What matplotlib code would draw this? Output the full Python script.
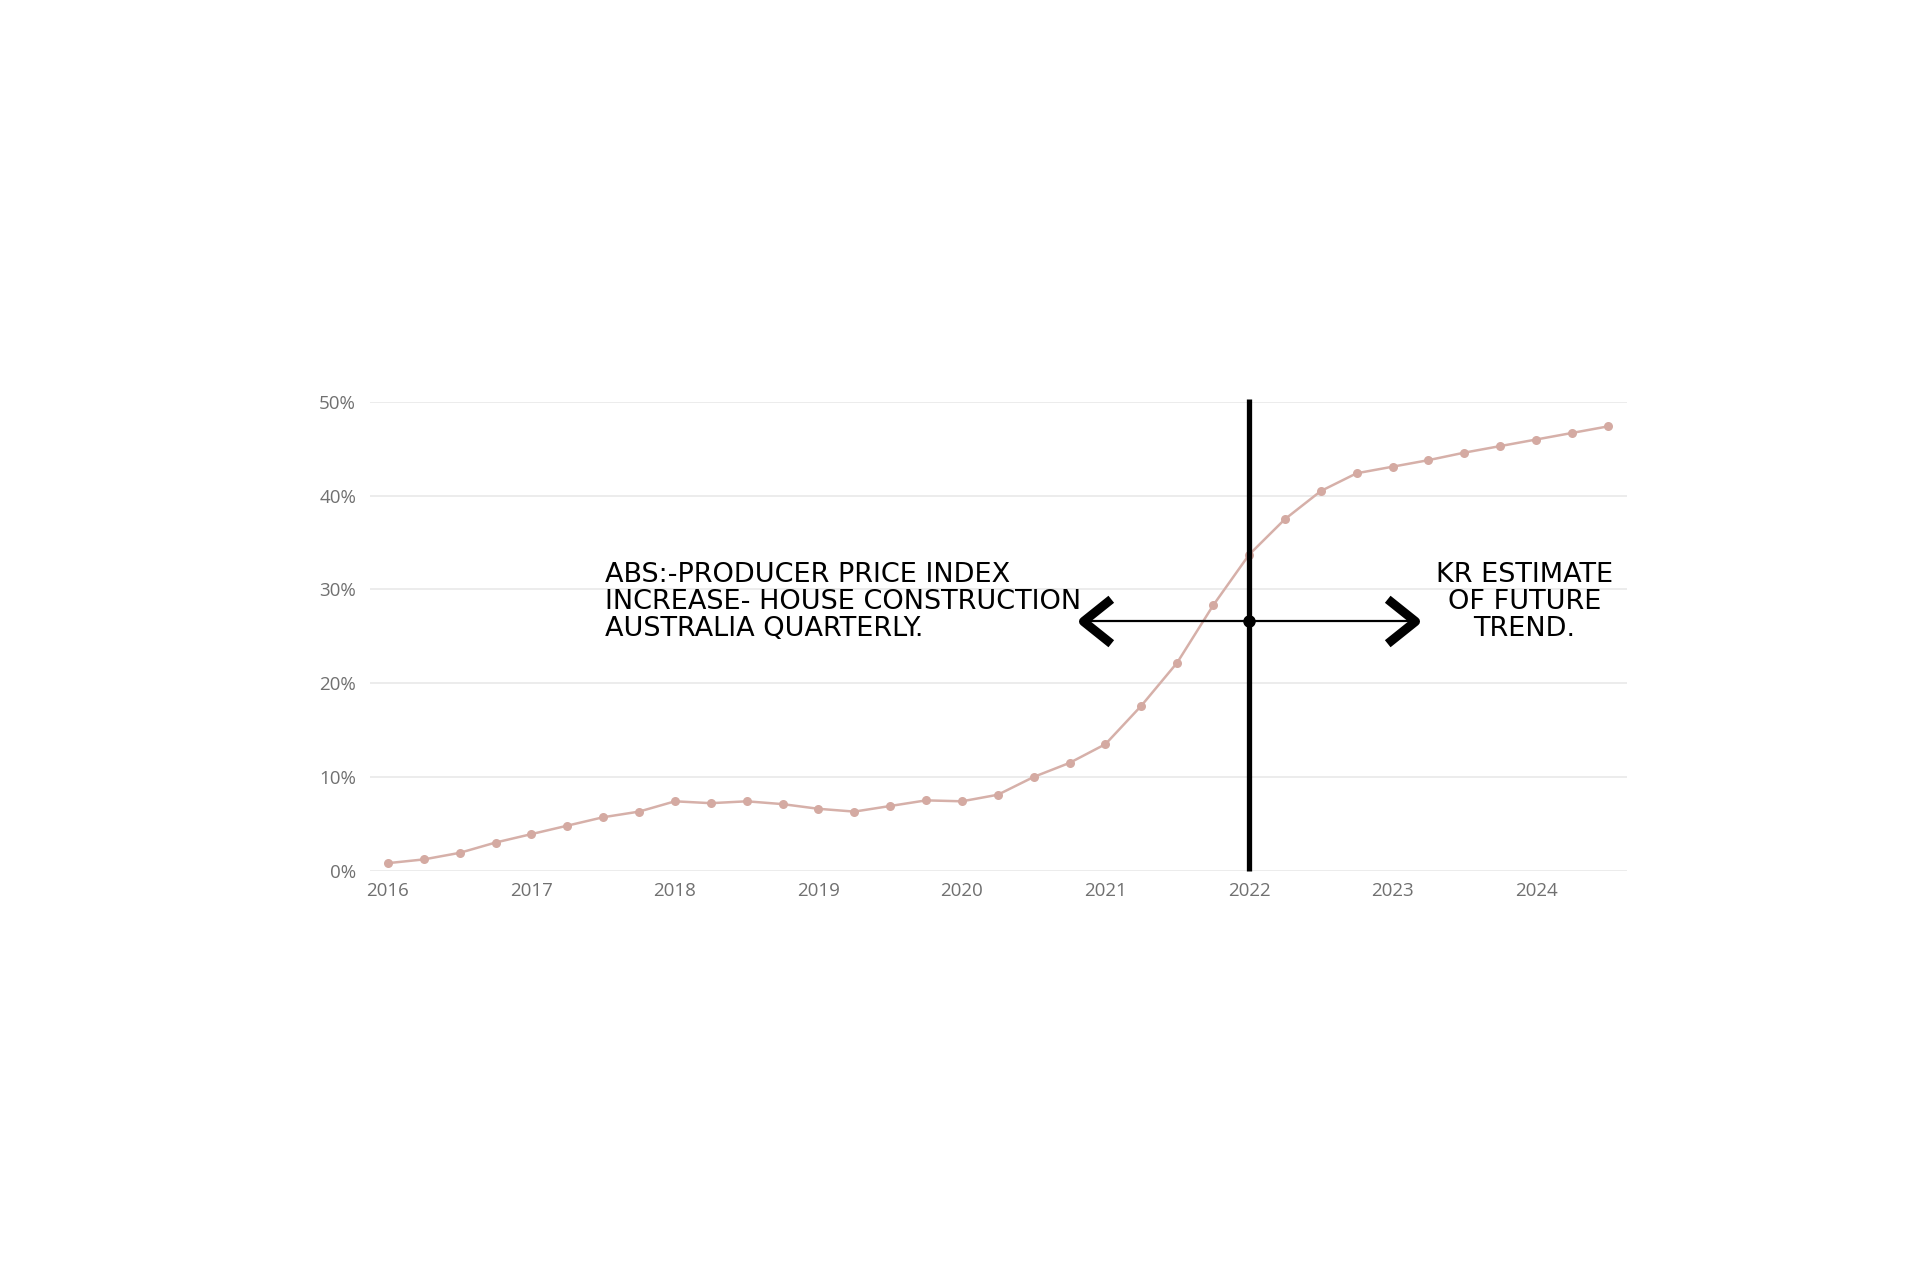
import numpy as np
import matplotlib.pyplot as plt
from matplotlib.markers import MarkerStyle

# quarterly producer price index increase, house construction (% since 2016)
quarters = np.arange(2016.0, 2024.51, 0.25)
ppi_increase = [0.8, 1.2, 1.9, 3.0, 3.9, 4.8, 5.7, 6.3,
                7.4, 7.2, 7.4, 7.1, 6.6, 6.3, 6.9, 7.5,
                7.4, 8.1, 10.0, 11.5, 13.5, 17.6, 22.2, 28.3,
                33.7, 37.5, 40.5, 42.4, 43.1, 43.8, 44.6, 45.3,
                46.0, 46.7, 47.4]

year_ticks = [2016, 2017, 2018, 2019, 2020, 2021, 2022, 2023, 2024]
pct_ticks = [0, 10, 20, 30, 40, 50]
pct_labels = ['0%', '10%', '20%', '30%', '40%', '50%']

split_year = 2022.0
arrow_level = 26.6
left_tip = 2020.84
right_tip = 2023.16
left_note = "ABS:-PRODUCER PRICE INDEX\nINCREASE- HOUSE CONSTRUCTION\nAUSTRALIA QUARTERLY."
right_note = "KR ESTIMATE\nOF FUTURE\nTREND."

fig = plt.figure(figsize=(19.2, 12.8), dpi=100)
ax = fig.add_axes([0.1927, 0.3198, 0.6547, 0.3661])

ax.plot(quarters, ppi_increase, color='#d6b0a9', lw=1.8, marker='o', ms=6.5,
        mfc='#d4aaa2', mec='none', zorder=3)

ax.set_xlim(2015.875, 2024.634)
ax.set_ylim(0, 50)
ax.set_xticks(year_ticks)
ax.set_xticklabels([str(y) for y in year_ticks])
ax.set_yticks(pct_ticks)
ax.set_yticklabels(pct_labels)
ax.grid(axis='y', color='#ebebeb', lw=1.3)
ax.set_axisbelow(True)
for s in ax.spines.values():
    s.set_visible(False)
ax.tick_params(length=0, labelsize=13.5, labelcolor='#707070')
ax.tick_params(axis='x', pad=8)
ax.tick_params(axis='y', pad=10)
for lab in ax.get_xticklabels() + ax.get_yticklabels():
    lab.set_fontfamily(['Open Sans', 'DejaVu Sans'])

# hand-drawn split line and arrows
ax.vlines(split_year, 0, 50.3, color='black', lw=3.8, clip_on=False, zorder=5)
ax.plot([left_tip, right_tip], [arrow_level, arrow_level], color='black', lw=1.6, zorder=5)
ax.plot([split_year], [arrow_level], marker='o', ms=8, color='black', zorder=6)
left_head = MarkerStyle([(1, 0.8), (0, 0), (1, -0.8)], fillstyle='none', joinstyle='round')
right_head = MarkerStyle([(-1, 0.8), (0, 0), (-1, -0.8)], fillstyle='none', joinstyle='round')
ax.plot([left_tip], [arrow_level], marker=left_head, ms=40, mew=6.5, mec='black', zorder=6)
ax.plot([right_tip], [arrow_level], marker=right_head, ms=40, mew=6.5, mec='black', zorder=6)

hand = ['DejaVu Sans']
ax.text(2017.51, 28.7, left_note, ha='left', va='center', fontsize=19.5,
        linespacing=1.05, family=hand, color='black')
ax.text(2023.92, 28.7, right_note, ha='center', va='center', fontsize=19.5,
        linespacing=1.05, family=hand, color='black', multialignment='center')

fig.savefig('out.png', dpi=100, facecolor='white')
